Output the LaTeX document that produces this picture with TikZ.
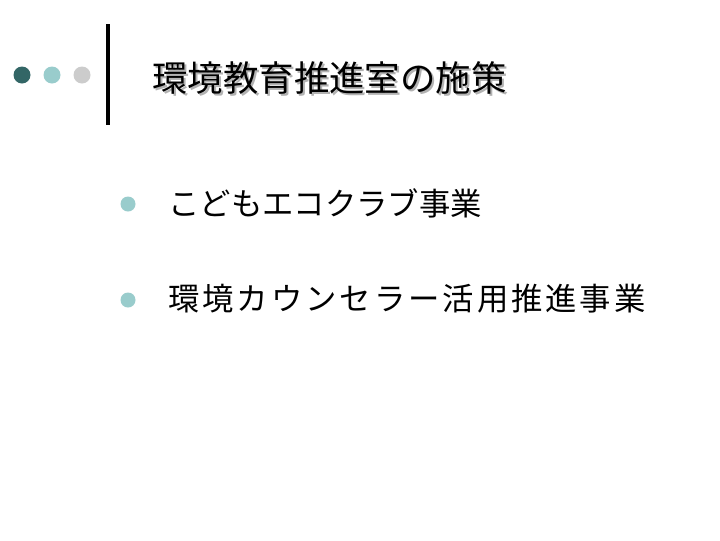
\documentclass[tikz,border=0pt]{standalone}
\usepackage{fontspec}
\newfontfamily\jpfont{Noto Sans CJK JP}
\definecolor{darkteal}{HTML}{336666}
\definecolor{lightteal}{HTML}{99CCCC}
\definecolor{lightgray}{HTML}{CCCCCC}
\tikzset{
  titletext/.style={anchor=west,inner sep=0pt,font=\jpfont\fontsize{25.2pt}{30pt}\selectfont},
  itemtext/.style={anchor=west,inner sep=0pt,font=\jpfont\fontsize{22.3pt}{26pt}\selectfont},
}
\begin{document}
\begin{tikzpicture}[x=0.025cm,y=-0.025cm]
\useasboundingbox (0,0) rectangle (720,540);
\fill[white] (0,0) rectangle (720,540);
\fill[darkteal] (22,75) circle (8.5);
\fill[lightteal] (52,75) circle (8.5);
\fill[lightgray] (82,75) circle (8.5);
\draw[line width=2.2pt] (108,24)--(108,125);
\node[titletext,text=gray!60] (shadow) at (154,80) {環境教育推進室の施策};
\node[titletext] (title) at (152,78) {環境教育推進室の施策};
\fill[lightteal] (128,204) circle (7.5);
\node[itemtext] (item1) at (168,203) {こどもエコクラブ事業};
\fill[lightteal] (128,300) circle (7.5);
\node[itemtext] (item2) at (168,299) {\addfontfeature{LetterSpace=9.4}環境カウンセラー活用推進事業};
\end{tikzpicture}
\end{document}
